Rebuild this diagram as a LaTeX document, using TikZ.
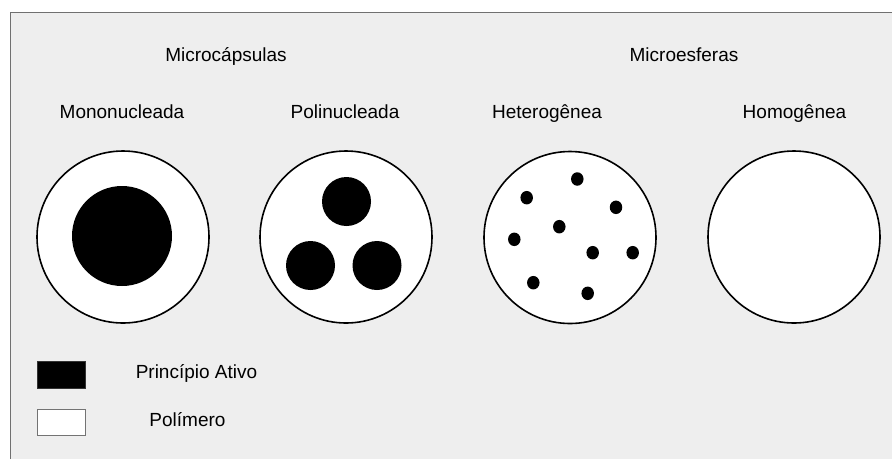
\documentclass[tikz,border=0pt]{standalone}
\usepackage{fontspec}
\setmainfont{Liberation Sans}
\usetikzlibrary{shapes.geometric}
\definecolor{bggray}{HTML}{EEEEEE}
\definecolor{framegray}{HTML}{707070}
\begin{document}
\begin{tikzpicture}[x=1pt,y=-1pt,
  lbl/.style={anchor=base,inner sep=0pt,font=\fontsize{19}{22}\selectfont},
  shell/.style={circle,draw=black,fill=white,line width=1.6pt,minimum size=172pt,inner sep=0pt},
  core/.style={circle,fill=black,inner sep=0pt,minimum size=#1},
  dot/.style={ellipse,fill=black,inner sep=0pt,minimum width=12.5pt,minimum height=13.5pt},
  keybox/.style={rectangle,inner sep=0pt,minimum width=48pt,minimum height=26.5pt,line width=0.8pt}]
\useasboundingbox (0,0) rectangle (892,459);
\fill[white] (0,0) rectangle (892,459);
\fill[bggray] (10.7,12.3) rectangle (892,459);
\draw[framegray,line width=1pt] (10.7,459) -- (10.7,12.3) -- (892,12.3);
% headings
\node[lbl] (tcaps) at (226,61) {Microcápsulas};
\node[lbl] (tesf) at (684,61) {Microesferas};
\node[lbl] (tmono) at (122,118) {Mononucleada};
\node[lbl] (tpoli) at (345,118) {Polinucleada};
\node[lbl] (thet) at (547,118) {Heterogênea};
\node[lbl] (thom) at (794.5,118) {Homogênea};
% particles
\node[shell] (mono) at (123,237) {};
\node[core=100pt] (monocore) at (122,236) {};
\node[shell] (poli) at (346,237) {};
\node[core=49pt] (pc1) at (346.5,201.5) {};
\node[core=49pt] (pc2) at (310.5,265.5) {};
\node[core=49pt] (pc3) at (377,265.5) {};
\node[shell] (het) at (570,237.5) {};
\node[dot] (d1) at (577.3,179) {};
\node[dot] (d2) at (526.7,197.7) {};
\node[dot] (d3) at (616,207.3) {};
\node[dot] (d4) at (559.3,226.7) {};
\node[dot] (d5) at (514.3,239.3) {};
\node[dot] (d6) at (592.7,252.7) {};
\node[dot] (d7) at (632.7,252.7) {};
\node[dot] (d8) at (533.3,282.7) {};
\node[dot] (d9) at (587.7,293.3) {};
\node[shell] (hom) at (794,237) {};
% legend
\node[keybox,fill=black,draw=black!80] (kactive) at (61,375) {};
\node[keybox,fill=white,draw=black!55] (kpoly) at (61,422.3) {};
\node[lbl] (tactive) at (196.5,378.3) {Princípio Ativo};
\node[lbl] (tpoly) at (187.5,426.7) {Polímero};
\end{tikzpicture}
\end{document}
